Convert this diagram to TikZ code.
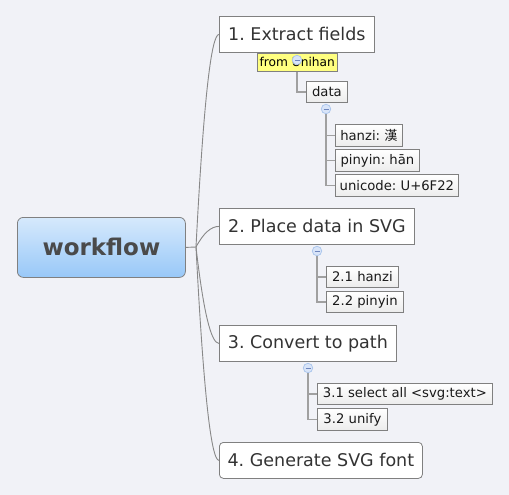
\documentclass[tikz,border=0pt]{standalone}
\usepackage{fontspec}
\setmainfont{DejaVu Sans}
\newfontfamily\cjk{Noto Sans CJK TC}
\usetikzlibrary{calc,shapes.geometric}
\frenchspacing
\pgfdeclarelayer{bg}
\pgfsetlayers{bg,main}
\definecolor{bgc}{RGB}{241,242,247}
\definecolor{txt}{RGB}{51,51,51}
\definecolor{bord}{RGB}{128,128,128}
\definecolor{rtop}{RGB}{214,233,252}
\definecolor{rbot}{RGB}{152,200,248}
\definecolor{yel}{RGB}{255,255,128}
\definecolor{cfill}{RGB}{216,228,248}
\definecolor{cbord}{RGB}{168,196,236}
\definecolor{cminus}{RGB}{110,134,190}
\definecolor{subline}{RGB}{160,160,160}
\definecolor{mainline}{RGB}{136,136,136}
\tikzset{
  rootbox/.style={draw=bord, rounded corners=6pt, top color=rtop, bottom color=rbot,
    anchor=north west, font=\fontsize{23}{26}\selectfont\bfseries, text={rgb,255:red,74;green,74;blue,74}, line width=0.8pt},
  mainbox/.style={draw=bord, fill=white, anchor=north west, font=\fontsize{17.5}{20}\selectfont, text=txt, line width=0.8pt, inner sep=0pt},
  subbox/.style={draw=bord, top color=white, bottom color={rgb,255:red,236;green,236;blue,236}, anchor=north west,
    font=\fontsize{13.2}{15}\selectfont, text={rgb,255:red,25;green,25;blue,25}, line width=0.8pt, inner sep=0pt},
  labbox/.style={draw=bord, fill=yel, anchor=north west, font=\fontsize{12.2}{14}\selectfont, text=black, line width=0.6pt, inner sep=0pt},
  collapse/.style={circle, draw=cbord, fill=cfill, minimum size=9.5pt, inner sep=0pt, line width=0.7pt},
  mainconn/.style={draw=mainline, line width=0.9pt},
  subconn/.style={draw=subline, line width=1.6pt},
}
\newcommand{\minus}[1]{\draw[cminus, line width=0.7pt] ($(#1)+(-2.5,0)$) -- ($(#1)+(2.5,0)$);}
\begin{document}
\begin{tikzpicture}[x=1pt,y=-1pt]
\begin{pgfonlayer}{bg}
\fill[bgc] (0,0) rectangle (509,495);
\end{pgfonlayer}
\useasboundingbox (0,0) rectangle (509,495);

% root
\node[rootbox, minimum width=168pt, minimum height=60pt] (root) at (17,217) {workflow};
\coordinate (j) at (196,247);

% main nodes
\node[mainbox, minimum width=155pt, minimum height=36pt] (n1) at (219,16) {1. Extract fields};
\node[mainbox, minimum width=195pt, minimum height=36pt] (n2) at (219,208) {2. Place data in SVG};
\node[mainbox, minimum width=177pt, minimum height=36pt] (n3) at (219,325) {3. Convert to path};
\node[mainbox, rounded corners=4pt, minimum width=203pt, minimum height=36pt] (n4) at (219,442) {4. Generate SVG font};

% subtree 1
\node[subbox, minimum width=41pt, minimum height=21pt] (data) at (306,81) {data};
\node[subbox, minimum width=67pt, minimum height=22pt] (hz) at (335,124) {hanzi: {\cjk 漢}};
\node[subbox, minimum width=84pt, minimum height=22pt] (py) at (335,149) {pinyin: hān};
\node[subbox, minimum width=123pt, minimum height=22pt] (uc) at (335,174) {unicode: U+6F22};

% subtree 2
\node[subbox, minimum width=72pt, minimum height=21pt] (s21) at (326,266) {2.1 hanzi};
\node[subbox, minimum width=77pt, minimum height=21pt] (s22) at (326,291) {2.2 pinyin};

% subtree 3
\node[subbox, minimum width=175pt, minimum height=21pt] (s31) at (317,383) {3.1 select all <svg:text>};
\node[subbox, minimum width=70pt, minimum height=22pt] (s32) at (317,408) {3.2 unify};

% label
\node[labbox, minimum width=80pt, minimum height=18pt] (lab) at (257,53) {from Unihan};

% collapse buttons
\node[collapse] (c1) at (297,60) {};
\node[collapse] (c1a) at (326,109) {};
\node[collapse] (c2) at (317,251) {};
\node[collapse] (c3) at (308,368) {};
\minus{c1}
\minus{c1a}
\minus{c2}
\minus{c3}

\begin{pgfonlayer}{bg}
\draw[mainconn] (root.east) -- (j);
\foreach \n in {n1,n2,n3,n4} {
  \coordinate (q) at ($(\n.west)+(-12,0)$);
  \draw[mainconn] (j) .. controls ($(j)!0.667!(q)$) and ($(\n.west)!0.667!(q)$) .. (\n.west);
}
\draw[subconn] (c1) |- (data.west);
\draw[subconn] (c1a) |- (hz.west);
\draw[subconn] (c1a) |- (py.west);
\draw[subconn] (c1a) |- (uc.west);
\draw[subconn] (c2) |- (s21.west);
\draw[subconn] (c2) |- (s22.west);
\draw[subconn] (c3) |- (s31.west);
\draw[subconn] (c3) |- (s32.west);
\end{pgfonlayer}
\end{tikzpicture}
\end{document}
